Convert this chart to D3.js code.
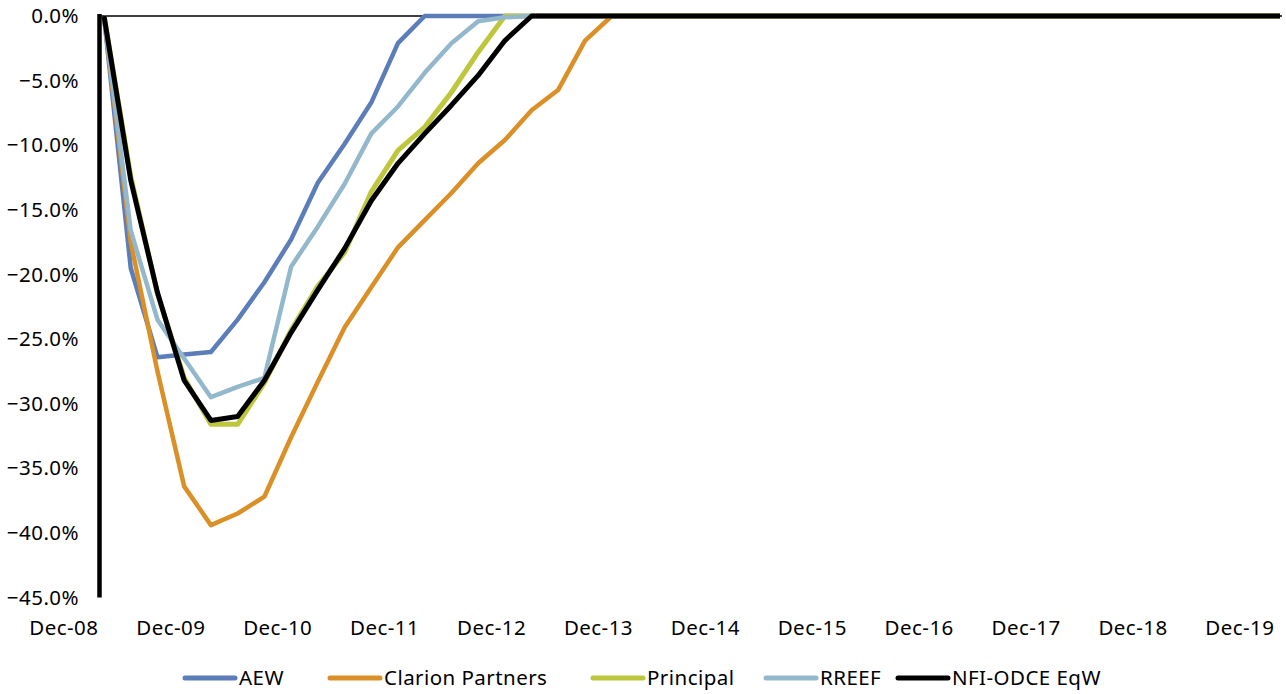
<!DOCTYPE html>
<html>
<head>
<meta charset="utf-8">
<script src="https://cdn.jsdelivr.net/npm/d3@7/dist/d3.min.js"></script>
<style>
  html, body { margin: 0; padding: 0; background: #fff; }
  svg { display: block; }
  text { font-family: "Noto Sans", Lato, sans-serif; fill: #000; letter-spacing: 0.45px; }
</style>
</head>
<body>
<svg id="chart" width="1286" height="694"></svg>
<script>
// ---- Data (drawdown from peak, %, quarterly, index 0 = first quarter shown) ----
const seriesNames = ["AEW", "Clarion Partners", "Principal", "RREEF", "NFI-ODCE EqW"];

const aew = [0, -19.5, -26.4, -26.2, -26.0, -23.5, -20.6, -17.3, -12.9, -9.9, -6.7, -2.1,
  0, 0, 0, 0, 0, 0, 0, 0, 0, 0, 0, 0, 0, 0, 0, 0, 0, 0, 0, 0, 0, 0, 0, 0, 0, 0, 0, 0, 0, 0, 0, 0, 0];
const clarion = [0, -17.5, -27.5, -36.4, -39.4, -38.5, -37.2, -32.6, -28.3, -24.1, -21.0, -17.9,
  -15.8, -13.7, -11.4, -9.6, -7.3, -5.7, -1.9, 0, 0, 0, 0, 0, 0, 0, 0, 0, 0, 0, 0, 0, 0, 0, 0, 0, 0, 0, 0, 0, 0, 0, 0, 0, 0];
const principal = [0, -12.4, -21.5, -28.0, -31.6, -31.6, -28.4, -24.3, -20.9, -18.3, -13.6, -10.4,
  -8.6, -5.9, -2.8, 0, 0, 0, 0, 0, 0, 0, 0, 0, 0, 0, 0, 0, 0, 0, 0, 0, 0, 0, 0, 0, 0, 0, 0, 0, 0, 0, 0, 0, 0];
const rreef = [0, -16.6, -23.5, -26.5, -29.5, -28.7, -28.0, -19.4, -16.3, -13.0, -9.1, -7.0,
  -4.4, -2.1, -0.4, -0.1, 0, 0, 0, 0, 0, 0, 0, 0, 0, 0, 0, 0, 0, 0, 0, 0, 0, 0, 0, 0, 0, 0, 0, 0, 0, 0, 0, 0, 0];
const nfi = [0, -12.7, -21.4, -28.2, -31.3, -31.0, -28.2, -24.5, -21.2, -18.0, -14.3, -11.4,
  -9.1, -6.9, -4.6, -1.9, 0, 0, 0, 0, 0, 0, 0, 0, 0, 0, 0, 0, 0, 0, 0, 0, 0, 0, 0, 0, 0, 0, 0, 0, 0, 0, 0, 0, 0];

const xTickLabels = ["Dec-08", "Dec-09", "Dec-10", "Dec-11", "Dec-12", "Dec-13",
  "Dec-14", "Dec-15", "Dec-16", "Dec-17", "Dec-18", "Dec-19"];
const yTicks = [0, -5, -10, -15, -20, -25, -30, -35, -40, -45];

const colors = ["#5B7DB9", "#DA8F27", "#BEC73C", "#93B8CB", "#000000"];
const widths = [4.5, 4.5, 5, 4.5, 5];

// ---- Layout ----
const svg = d3.select("#chart");
const nQ = aew.length;
const x = d3.scaleLinear().domain([0, nQ - 1]).range([104, 1280]);
const y = d3.scaleLinear().domain([0, -45]).range([16, 597.5]);
const labelOffset = -1.5; // label of year k sits at quarter index 4k - 1.5
const fs = 20.5;

// y tick labels
svg.append("g").selectAll("text").data(yTicks).join("text")
  .attr("x", 79).attr("y", d => y(d)).attr("dy", "0.35em")
  .attr("text-anchor", "end").attr("font-size", fs)
  .text(d => d3.format(".1f")(d) + "%");

// x tick labels (at bottom)
svg.append("g").selectAll("text").data(xTickLabels).join("text")
  .attr("x", (d, i) => x(4 * i + labelOffset)).attr("y", 628).attr("dy", "0.35em")
  .attr("text-anchor", "middle").attr("font-size", fs)
  .text(d => d);

// horizontal axis at 0
svg.append("line")
  .attr("x1", 99).attr("x2", 1282).attr("y1", y(0)).attr("y2", y(0))
  .attr("stroke", "#000").attr("stroke-width", 1.5);

// series lines
const allSeries = [aew, clarion, principal, rreef, nfi];
const line = d3.line().x((d, i) => x(i)).y(d => y(d)).curve(d3.curveLinear);
const drawOrder = [0, 1, 2, 3, 4];
svg.append("g").selectAll("path").data(drawOrder).join("path")
  .attr("d", k => line(allSeries[k]))
  .attr("fill", "none")
  .attr("stroke", k => colors[k])
  .attr("stroke-width", k => widths[k])
  .attr("stroke-linejoin", "round")
  .attr("stroke-linecap", "butt");

// vertical axis (thick)
svg.append("line")
  .attr("x1", 99.5).attr("x2", 99.5).attr("y1", y(0) - 2).attr("y2", y(-45))
  .attr("stroke", "#000").attr("stroke-width", 4.5);

// legend
const legendX = [185, 330, 593, 766, 898];
const lg = svg.append("g");
seriesNames.forEach((name, i) => {
  const g = lg.append("g").attr("transform", `translate(${legendX[i]},678)`);
  g.append("line").attr("x1", 0).attr("x2", 50).attr("y1", 0).attr("y2", 0)
    .attr("stroke", colors[i]).attr("stroke-width", 5).attr("stroke-linecap", "round");
  g.append("text").attr("x", 54).attr("y", 0).attr("dy", "0.35em")
    .attr("font-size", fs).text(name);
});
</script>
</body>
</html>
